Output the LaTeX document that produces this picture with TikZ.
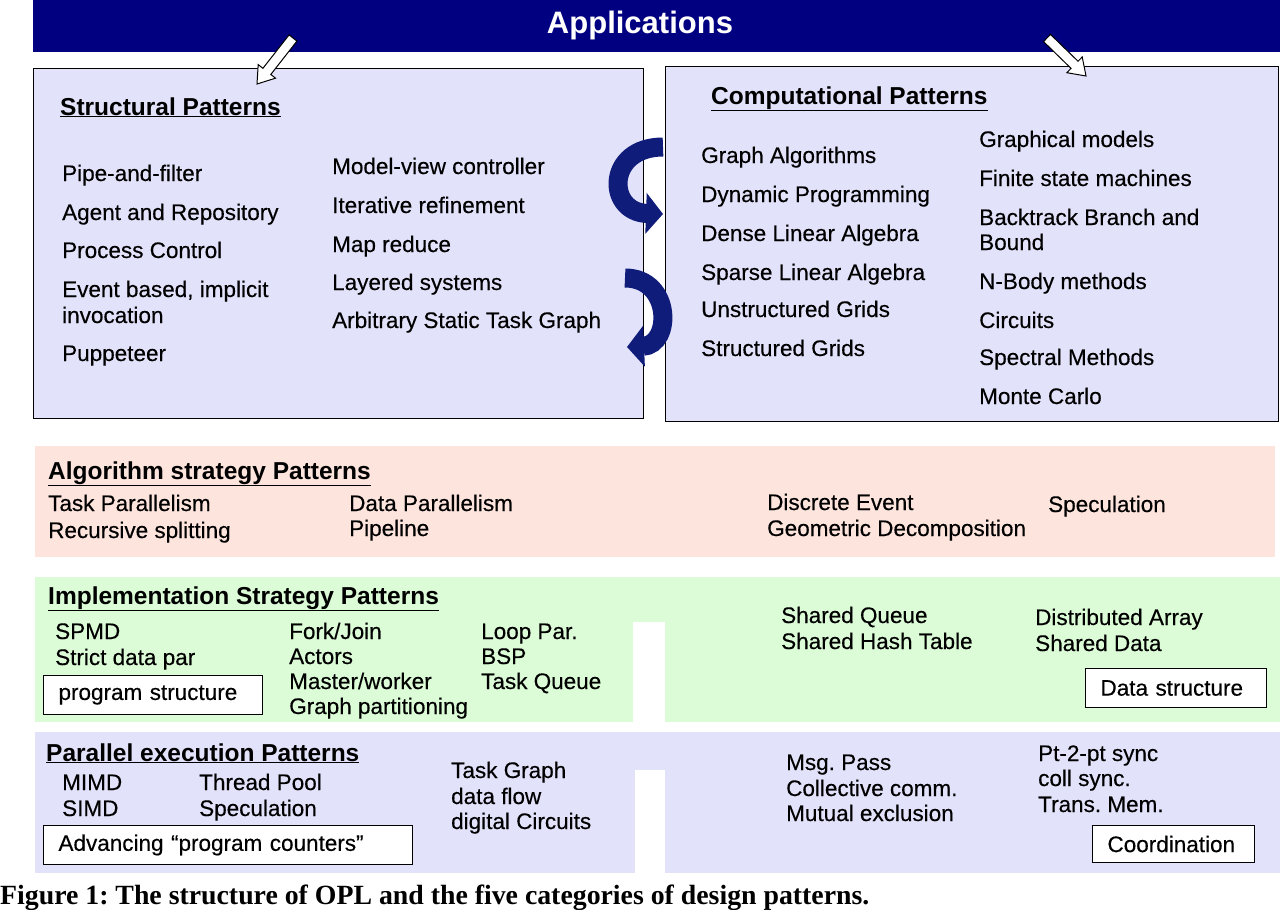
\documentclass[tikz,border=0pt]{standalone}
\usepackage{fontspec}
\setmainfont{Liberation Sans}
\newfontfamily\bodyfont{Liberation Sans}[FakeBold=0.3]
\newfontfamily\capfont{Liberation Serif}
\usetikzlibrary{arrows.meta}
\definecolor{navy}{RGB}{0,0,128}
\definecolor{lav}{RGB}{226,226,250}
\definecolor{pinkb}{RGB}{253,228,221}
\definecolor{greenb}{RGB}{219,252,214}
\definecolor{arrowblue}{RGB}{16,28,122}
\tikzset{
  txt/.style={anchor=base west, inner sep=0pt, font=\bodyfont\fontsize{22.5}{27}\selectfont},
  hd/.style={anchor=base west, inner sep=0pt, font=\bfseries\fontsize{24.5}{29}\selectfont},
  panel/.style={draw=black, line width=1pt, fill=lav, anchor=north west, inner sep=0pt},
  tagbox/.style={draw=black, line width=1pt, fill=white, anchor=north west, inner xsep=15pt,
    inner ysep=0pt, align=left, font=\bodyfont\fontsize{22.5}{27}\selectfont},
  curarrow/.style={draw=arrowblue, line width=19pt, -{Triangle[length=17pt, width=40pt]}},
  hollow/.style={draw=black, line width=1pt, fill=white}
}
\begin{document}
\frenchspacing
\begin{tikzpicture}[x=1pt,y=-1pt]
\useasboundingbox (0,0) rectangle (1280,910);
\fill[white] (0,0) rectangle (1280,910);

% banner
\node[fill=navy, anchor=north west, inner sep=0pt, minimum width=1247, minimum height=52] (banner) at (33,0) {};
\node[text=white, font=\bfseries\fontsize{31}{36}\selectfont, inner sep=0pt] (apptitle) at (640,25) {Applications};

% top panels
\node[panel, minimum width=610, minimum height=350] (sbox) at (33,68) {};
\node[panel, minimum width=613, minimum height=355] (cbox) at (665,66) {};

% hollow arrows from the banner
\draw[hollow] (296.94,41.08) -- (270.8,74.48) -- (275.53,78.18) -- (257,84) -- (258.19,64.62) -- (262.92,68.32) -- (289.06,34.92) -- cycle;
\draw[hollow] (1043.51,41.58) -- (1071.05,68.41) -- (1066.86,72.71) -- (1086,76) -- (1082.22,56.95) -- (1078.03,61.25) -- (1050.49,34.42) -- cycle;

% structural patterns
\node[hd] (shd) at (60,115) {\underline{Structural Patterns}};
\node[txt] (s1) at (62,181) {Pipe-and-filter};
\node[txt] (s2) at (62,220) {Agent and Repository};
\node[txt] (s3) at (62,258) {Process Control};
\node[txt] (s4) at (62,297) {Event based, implicit};
\node[txt] (s5) at (62,323) {invocation};
\node[txt] (s6) at (62,361) {Puppeteer};
\node[txt] (s7) at (332,174) {Model-view controller};
\node[txt] (s8) at (332,213) {Iterative refinement};
\node[txt] (s9) at (332,252) {Map reduce};
\node[txt] (s10) at (332,290) {Layered systems};
\node[txt] (s11) at (332,328) {Arbitrary Static Task Graph};

% computational patterns
\node[hd] (chd) at (711,104) {\underline{Computational Patterns}};
\node[txt] (c1) at (701,163) {Graph Algorithms};
\node[txt] (c2) at (701,202) {Dynamic Programming};
\node[txt] (c3) at (701,241) {Dense Linear Algebra};
\node[txt] (c4) at (701,280) {Sparse Linear Algebra};
\node[txt] (c5) at (701,317) {Unstructured Grids};
\node[txt] (c6) at (701,356) {Structured Grids};
\node[txt] (c7) at (979,147) {Graphical models};
\node[txt] (c8) at (979,186) {Finite state machines};
\node[txt] (c9) at (979,225) {Backtrack Branch and};
\node[txt] (c10) at (979,250) {Bound};
\node[txt] (c11) at (979,289) {N-Body methods};
\node[txt] (c12) at (979,328) {Circuits};
\node[txt] (c13) at (979,365) {Spectral Methods};
\node[txt] (c14) at (979,404) {Monte Carlo};

% curved arrows between the panels
\coordinate (a1s) at (663,147);
\coordinate (a1e) at (663,214);
\coordinate (a2s) at (625,278);
\coordinate (a2e) at (627,347);
\draw[curarrow] (a1s) .. controls (606,147) and (606,212) .. (a1e);
\draw[curarrow] (a2s) .. controls (672,278) and (672,345) .. (a2e);

% algorithm strategy band
\fill[pinkb] (35,446) rectangle (1275,557);
\node[hd] (ahd) at (48,479) {\underline{Algorithm strategy Patterns}};
\node[txt] (a1) at (48,511) {Task Parallelism};
\node[txt] (a2) at (48,538) {Recursive splitting};
\node[txt] (a3) at (349,511) {Data Parallelism};
\node[txt] (a4) at (349,536) {Pipeline};
\node[txt] (a5) at (767,510) {Discrete Event};
\node[txt] (a6) at (767,536) {Geometric Decomposition};
\node[txt] (a7) at (1048,512) {Speculation};

% implementation strategy band
\fill[greenb] (35,577) rectangle (1280,722);
\fill[white] (633,622) rectangle (665,723);
\node[hd] (ihd) at (48,604) {\underline{Implementation Strategy Patterns}};
\node[txt] (i1) at (55,639) {SPMD};
\node[txt] (i2) at (55,665) {Strict data par};
\node[tagbox, text width=189pt, minimum height=39] (ibox) at (43,675) {program structure};
\node[txt] (i3) at (289,639) {Fork/Join};
\node[txt] (i4) at (289,664) {Actors};
\node[txt] (i5) at (289,689) {Master/worker};
\node[txt] (i6) at (289,714) {Graph partitioning};
\node[txt] (i7) at (481,639) {Loop Par.};
\node[txt] (i8) at (481,664) {BSP};
\node[txt] (i9) at (481,689) {Task Queue};
\node[txt] (i10) at (781,623) {Shared Queue};
\node[txt] (i11) at (781,649) {Shared Hash Table};
\node[txt] (i12) at (1035,625) {Distributed Array};
\node[txt] (i13) at (1035,651) {Shared Data};
\node[tagbox, text width=151pt, minimum height=39] (dbox) at (1085,668) {Data structure};

% parallel execution band
\fill[lav] (35,732) rectangle (1280,873);
\fill[white] (635,770) rectangle (665,874);
\node[hd] (phd) at (46,761) {\underline{Parallel execution Patterns}};
\node[txt] (p1) at (62,790) {MIMD};
\node[txt] (p2) at (62,816) {SIMD};
\node[txt] (p3) at (199,790) {Thread Pool};
\node[txt] (p4) at (199,816) {Speculation};
\node[tagbox, text width=339pt, minimum height=39] (pbox) at (43,825) {Advancing “program counters”};
\node[txt] (p5) at (451,778) {Task Graph};
\node[txt] (p6) at (451,804) {data flow};
\node[txt] (p7) at (451,829) {digital Circuits};
\node[txt] (p8) at (786,770) {Msg. Pass};
\node[txt] (p9) at (786,796) {Collective comm.};
\node[txt] (p10) at (786,821) {Mutual exclusion};
\node[txt] (p11) at (1038,761) {Pt-2-pt sync};
\node[txt] (p12) at (1038,786) {coll sync.};
\node[txt] (p13) at (1038,812) {Trans. Mem.};
\node[tagbox, text width=132pt, minimum height=37] (cobox) at (1092,825) {Coordination};

% caption
\node[anchor=base west, inner sep=0pt, font=\capfont\bfseries\fontsize{27.8}{32}\selectfont] (caption) at (0,904) {Figure 1: The structure of OPL and the five categories of design patterns.};
\end{tikzpicture}
\end{document}
